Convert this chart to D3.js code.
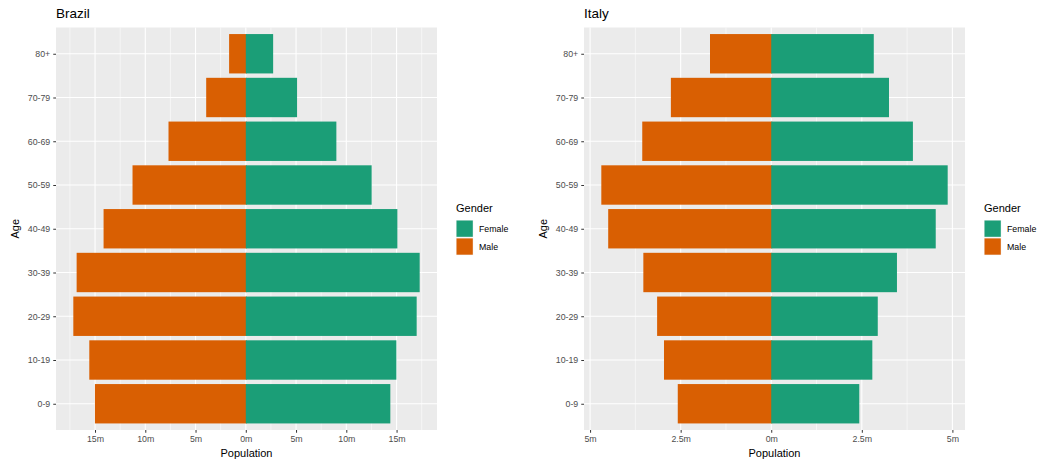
<!DOCTYPE html>
<html>
<head>
<meta charset="utf-8">
<script src="https://cdn.jsdelivr.net/npm/d3@7"></script>
<style>
  html, body { margin: 0; padding: 0; background: #fff; }
  svg { display: block; font-family: "Liberation Sans", Arial, sans-serif; }
</style>
</head>
<body>
<svg id="chart" width="1037" height="462"></svg>
<script>
// ---- data ----
const ageGroups = ["0-9", "10-19", "20-29", "30-39", "40-49", "50-59", "60-69", "70-79", "80+"];
const brazilMale   = [15.01, 15.57, 17.16, 16.83, 14.15, 11.27, 7.69, 3.94, 1.66];
const brazilFemale = [14.38, 14.98, 17.00, 17.30, 15.08, 12.52, 9.01, 5.10, 2.72];
const italyMale    = [2.58, 2.96, 3.15, 3.53, 4.50, 4.69, 3.56, 2.77, 1.69];
const italyFemale  = [2.43, 2.79, 2.94, 3.47, 4.54, 4.87, 3.91, 3.25, 2.83];
const brazilTicks  = [-15, -10, -5, 0, 5, 10, 15];
const brazilTickLabels = ["15m", "10m", "5m", "0m", "5m", "10m", "15m"];
const brazilMinor  = [-17.5, -12.5, -7.5, -2.5, 2.5, 7.5, 12.5, 17.5];
const italyTicks   = [-5, -2.5, 0, 2.5, 5];
const italyTickLabels = ["5m", "2.5m", "0m", "2.5m", "5m"];
const italyMinor   = [-3.75, -1.25, 1.25, 3.75];
const genders = ["Female", "Male"];
const genderColors = ["#1B9E77", "#D95F02"];

const svg = d3.select("#chart");
const color = d3.scaleOrdinal().domain(genders).range(genderColors);

function panel(opts) {
  const g = svg.append("g").attr("transform", `translate(${opts.offset},0)`);
  const left = 56, right = 437, top = 27.5, bottom = 430;

  const vals = opts.male.map(v => -v).concat(opts.female);
  const lo = d3.min(vals), hi = d3.max(vals), span = hi - lo;
  const x = d3.scaleLinear().domain([lo - 0.05 * span, hi + 0.05 * span]).range([left, right]);
  const y = d3.scalePoint().domain(ageGroups).range([bottom, top]).padding(0.6);
  const step = y.step();

  // panel background
  g.append("rect").attr("x", left).attr("y", top).attr("width", right - left).attr("height", bottom - top)
    .attr("fill", "#EBEBEB");

  // minor grid
  g.selectAll(".minor").data(opts.minor.filter(d => x(d) > left && x(d) < right)).enter().append("line")
    .attr("x1", d => x(d)).attr("x2", d => x(d)).attr("y1", top).attr("y2", bottom)
    .attr("stroke", "#fff").attr("stroke-width", 0.55);
  // major grid x
  g.selectAll(".majx").data(opts.ticks).enter().append("line")
    .attr("x1", d => x(d)).attr("x2", d => x(d)).attr("y1", top).attr("y2", bottom)
    .attr("stroke", "#fff").attr("stroke-width", 1.1);
  // major grid y
  g.selectAll(".majy").data(ageGroups).enter().append("line")
    .attr("x1", left).attr("x2", right).attr("y1", d => y(d)).attr("y2", d => y(d))
    .attr("stroke", "#fff").attr("stroke-width", 1.1);

  const bh = step * 0.9;
  // male bars (extend slightly under female bar to avoid a seam at zero)
  g.selectAll(".male").data(ageGroups).enter().append("rect")
    .attr("x", (d, i) => x(-opts.male[i]))
    .attr("width", (d, i) => x(0) - x(-opts.male[i]) + 1)
    .attr("y", d => y(d) - bh / 2).attr("height", bh)
    .attr("fill", color("Male"));
  // female bars
  g.selectAll(".female").data(ageGroups).enter().append("rect")
    .attr("x", x(0))
    .attr("width", (d, i) => x(opts.female[i]) - x(0))
    .attr("y", d => y(d) - bh / 2).attr("height", bh)
    .attr("fill", color("Female"));

  // x axis
  const xAxis = d3.axisBottom(x).tickValues(opts.ticks).tickSize(2.75).tickPadding(3)
    .tickFormat((d, i) => opts.tickLabels[i]);
  const xa = g.append("g").attr("transform", `translate(0,${bottom})`).call(xAxis);
  xa.select(".domain").remove();
  xa.selectAll(".tick line").attr("stroke", "#333333").attr("stroke-width", 1);
  xa.selectAll(".tick text").attr("fill", "#4D4D4D").style("font-size", "8.8px")
    .style("font-family", "'Liberation Sans', Arial, sans-serif");

  // y axis
  const yAxis = d3.axisLeft(y).tickSize(2.75).tickPadding(3);
  const ya = g.append("g").attr("transform", `translate(${left},0)`).call(yAxis);
  ya.select(".domain").remove();
  ya.selectAll(".tick line").attr("stroke", "#333333").attr("stroke-width", 1);
  ya.selectAll(".tick text").attr("fill", "#4D4D4D").style("font-size", "8.8px")
    .style("font-family", "'Liberation Sans', Arial, sans-serif");

  // axis titles
  g.append("text").attr("x", (left + right) / 2).attr("y", 457).attr("text-anchor", "middle")
    .style("font-size", "11px").attr("fill", "#000").text("Population");
  g.append("text").attr("transform", `translate(19,${(top + bottom) / 2}) rotate(-90)`)
    .attr("text-anchor", "middle").style("font-size", "11px").attr("fill", "#000").text("Age");

  // title
  g.append("text").attr("x", left).attr("y", 18).style("font-size", "13.5px").attr("fill", "#000")
    .text(opts.title);

  // legend
  const lg = g.append("g").attr("transform", "translate(456,0)");
  lg.append("text").attr("x", 0).attr("y", 212).style("font-size", "11px").attr("fill", "#000").text("Gender");
  genders.forEach((gd, i) => {
    const ky = 220 + i * 17.9;
    lg.append("rect").attr("x", 0).attr("y", ky).attr("width", 17.3).attr("height", 17.3)
      .attr("fill", "#F2F2F2");
    lg.append("rect").attr("x", 0.5).attr("y", ky + 0.5).attr("width", 16.3).attr("height", 16.3)
      .attr("fill", color(gd));
    lg.append("text").attr("x", 23).attr("y", ky + 8.65).attr("dy", "0.35em")
      .style("font-size", "8.8px").attr("fill", "#000").text(gd);
  });
}

panel({ offset: 0, title: "Brazil", male: brazilMale, female: brazilFemale,
        ticks: brazilTicks, tickLabels: brazilTickLabels, minor: brazilMinor });
panel({ offset: 528, title: "Italy", male: italyMale, female: italyFemale,
        ticks: italyTicks, tickLabels: italyTickLabels, minor: italyMinor });
</script>
</body>
</html>
